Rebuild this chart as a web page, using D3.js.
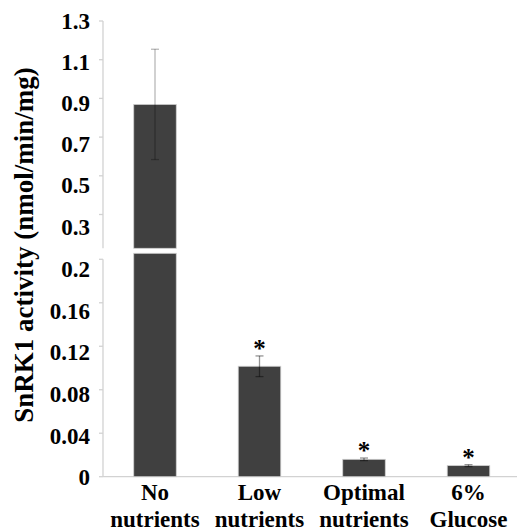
<!DOCTYPE html>
<html><head><meta charset="utf-8"><script src="https://cdn.jsdelivr.net/npm/d3@7"></script></head>
<body style="margin:0">
<svg id="s" width="517" height="530"></svg>
<script>
// ---- data ----
const categories = ["No nutrients", "Low nutrients", "Optimal nutrients", "6% Glucose"];
const labelLines = [["No", "nutrients"], ["Low", "nutrients"], ["Optimal", "nutrients"], ["6%", "Glucose"]];
const values = [0.869, 0.1016, 0.016, 0.0102];
const errors = [0.285, 0.0095, 0.0012, 0.0009];
const significant = [false, true, true, true];
const topTicks = [0.3, 0.5, 0.7, 0.9, 1.1, 1.3];
const bottomTicks = [0, 0.04, 0.08, 0.12, 0.16, 0.2];
const topTickLabels = ["0.3", "0.5", "0.7", "0.9", "1.1", "1.3"];
const bottomTickLabels = ["0", "0.04", "0.08", "0.12", "0.16", "0.2"];
const yTitle = "SnRK1 activity (nmol/min/mg)";
const fams = ["Liberation Serif"];

// ---- layout ----
const svg = d3.select("#s");
const axisX = 103;
const axisColor = "#d2d2d2";
const topPanelBottom = 248.3;
const lowerBarTop = 253.3;
const lowerAxisTop = 259.3;

function txt(sel) {
  return sel.style("font-family", () => `"${fams[0]}"`).style("font-weight", "bold");
}

const x = d3.scaleBand().domain(categories).range([102.75, 520.75])
  .paddingInner(0.593).paddingOuter(0.2965);

const yTop = d3.scaleLinear().domain([0.3, 1.3]).range([214.5, 21]);
const yBot = d3.scaleLinear().domain([0, 0.2]).range([476.7, 259.3]);
// label placement scales (labels sit slightly offset from ticks in the original)
const yTopLab = d3.scaleLinear().domain([0.3, 1.3]).range([226.7, 20.8]);
const yBotLab = d3.scaleLinear().domain([0, 0.2]).range([477.5, 269]);

// ---- axes ----
const gTop = svg.append("g").attr("transform", `translate(${axisX},0)`);
gTop.append("line").attr("x1", 0).attr("x2", 0).attr("y1", yTop(1.3)).attr("y2", topPanelBottom)
  .attr("stroke", axisColor).attr("stroke-width", 1.3);
gTop.selectAll("line.tk").data(topTicks).join("line").attr("class", "tk")
  .attr("x1", -4).attr("x2", 0).attr("y1", d => yTop(d)).attr("y2", d => yTop(d))
  .attr("stroke", axisColor).attr("stroke-width", 1.3);

const gBot = svg.append("g").attr("transform", `translate(${axisX},0)`);
gBot.append("line").attr("x1", 0).attr("x2", 0).attr("y1", lowerAxisTop).attr("y2", yBot(0))
  .attr("stroke", axisColor).attr("stroke-width", 1.3);
gBot.selectAll("line.tk").data(bottomTicks).join("line").attr("class", "tk")
  .attr("x1", -4).attr("x2", 0).attr("y1", d => yBot(d)).attr("y2", d => yBot(d))
  .attr("stroke", axisColor).attr("stroke-width", 1.3);

svg.append("line").attr("x1", axisX).attr("x2", 517).attr("y1", yBot(0)).attr("y2", yBot(0))
  .attr("stroke", axisColor).attr("stroke-width", 1.3);

// tick labels
txt(svg.selectAll("text.tt").data(topTicks).join("text").attr("class", "tt")
  .attr("x", 90).attr("y", d => yTopLab(d)).attr("dy", "0.34em")
  .attr("text-anchor", "end").style("font-size", "23px")
  .text((d, i) => topTickLabels[i]));
txt(svg.selectAll("text.bt").data(bottomTicks).join("text").attr("class", "bt")
  .attr("x", 90).attr("y", d => yBotLab(d)).attr("dy", "0.34em")
  .attr("text-anchor", "end").style("font-size", "23px")
  .text((d, i) => bottomTickLabels[i]));

// ---- bars ----
const barFill = "#404040";
const barEdge = "#cfcfcf";
const data = categories.map((c, i) => ({ c, v: values[i], e: errors[i], s: significant[i], lines: labelLines[i] }));
data.forEach(d => {
  if (d.v > 0.2) {
    svg.append("rect").attr("x", x(d.c)).attr("width", x.bandwidth())
      .attr("y", yTop(d.v)).attr("height", topPanelBottom - yTop(d.v))
      .attr("fill", barFill).attr("stroke", barEdge).attr("stroke-width", 0.8);
    svg.append("rect").attr("x", x(d.c)).attr("width", x.bandwidth())
      .attr("y", lowerBarTop).attr("height", yBot(0) - lowerBarTop)
      .attr("fill", barFill).attr("stroke", barEdge).attr("stroke-width", 0.8);
  } else {
    svg.append("rect").attr("x", x(d.c)).attr("width", x.bandwidth())
      .attr("y", yBot(d.v)).attr("height", yBot(0) - yBot(d.v))
      .attr("fill", barFill).attr("stroke", barEdge).attr("stroke-width", 0.8);
  }
});

// ---- error bars + significance ----
data.forEach(d => {
  const y = d.v > 0.2 ? yTop : yBot;
  const cx = x(d.c) + x.bandwidth() / 2;
  const op = d.v > 0.2 ? 0.28 : 0.42;
  const cap = 4;
  svg.append("line").attr("x1", cx).attr("x2", cx).attr("y1", y(d.v + d.e)).attr("y2", y(d.v - d.e))
    .attr("stroke", "#000").attr("stroke-opacity", op).attr("stroke-width", 1.3);
  [d.v + d.e, d.v - d.e].forEach(val => {
    svg.append("line").attr("x1", cx - cap).attr("x2", cx + cap).attr("y1", y(val)).attr("y2", y(val))
      .attr("stroke", "#000").attr("stroke-opacity", op).attr("stroke-width", 1.3);
  });
});
txt(svg.selectAll("text.ast").data(data.filter(d => d.s)).join("text").attr("class", "ast")
  .attr("x", d => x(d.c) + x.bandwidth() / 2).attr("y", d => yBot(d.v + d.e) + 1)
  .attr("text-anchor", "middle").style("font-size", "25px").text("*"));

// ---- category labels ----
const lab = [];
data.forEach(d => d.lines.forEach((ln, j) => lab.push({ c: d.c, ln, j })));
txt(svg.selectAll("text.xl").data(lab).join("text").attr("class", "xl")
  .attr("x", d => x(d.c) + x.bandwidth() / 2).attr("y", d => 500 + d.j * 26.5)
  .attr("text-anchor", "middle").style("font-size", "23px").text(d => d.ln));

// ---- y title ----
txt(svg.selectAll("text.yt").data([yTitle]).join("text").attr("class", "yt")
  .attr("transform", "translate(33,245) rotate(-90)")
  .attr("text-anchor", "middle").style("font-size", "27px").text(d => d));
</script></body></html>
